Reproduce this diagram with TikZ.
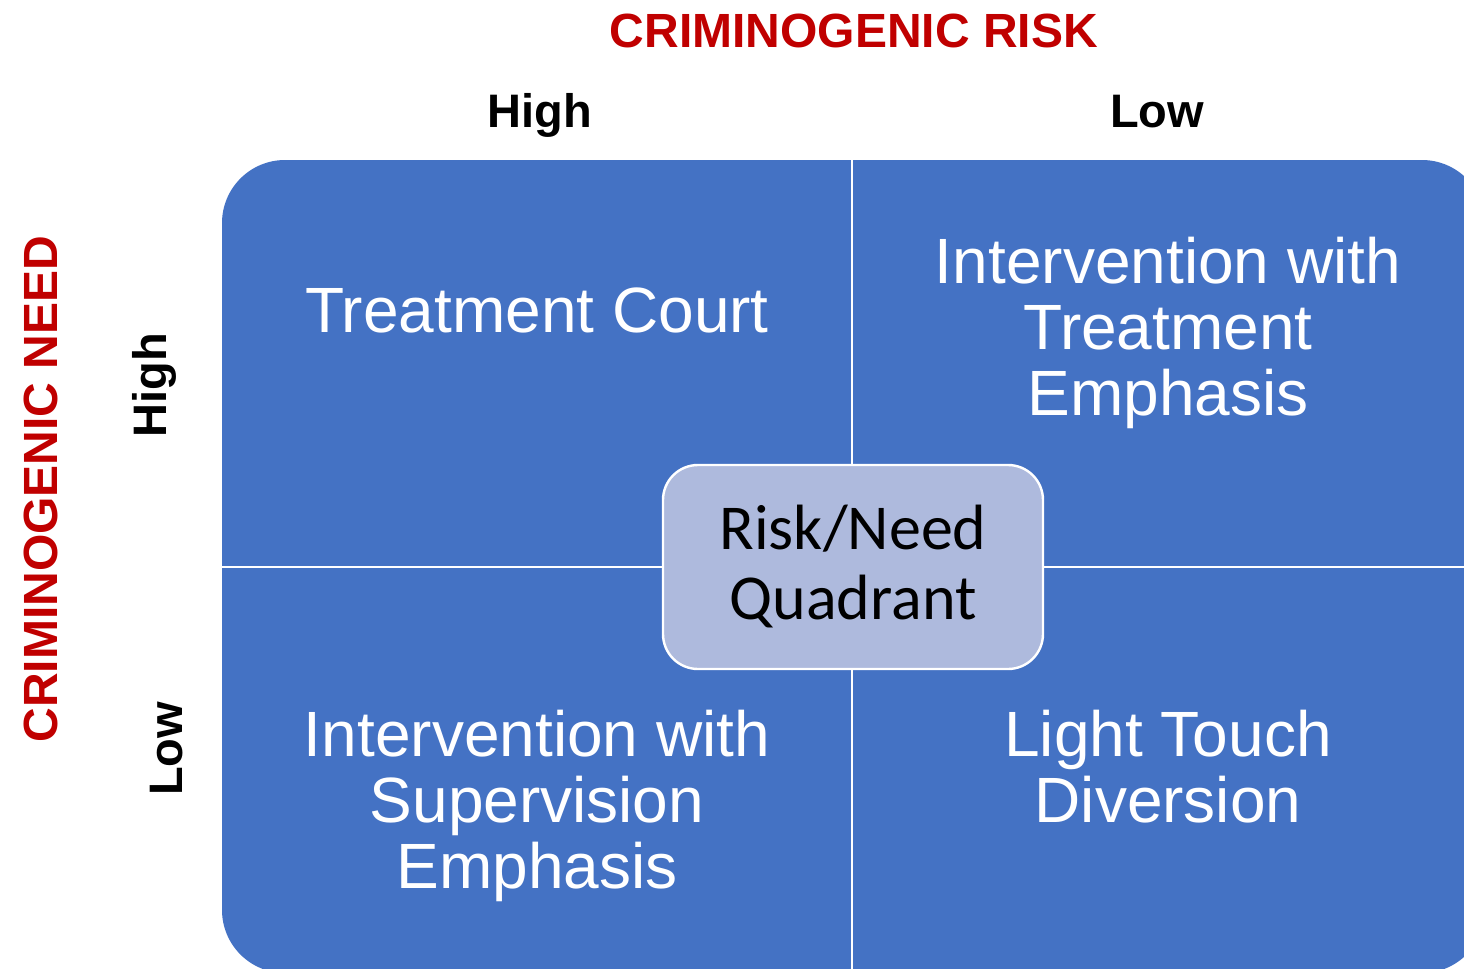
\documentclass[tikz,border=0pt]{standalone}
\usepackage{fontspec}
\setmainfont{Liberation Sans}
\newfontfamily\hubfont{Carlito}
\definecolor{quadblue}{RGB}{68,114,196}
\definecolor{hubfill}{RGB}{174,186,221}
\definecolor{axisred}{RGB}{192,0,0}

\begin{document}
\begin{tikzpicture}[x=0.5pt,y=-0.5pt,
  axistitle/.style={font=\fontsize{24}{28}\selectfont\bfseries, text=axisred, inner sep=0},
  level/.style={font=\fontsize{23.5}{28}\selectfont\bfseries, inner sep=0},
  quadtext/.style={font=\fontsize{32}{33}\selectfont, text=white, align=center, inner sep=0, anchor=north},
  hub/.style={draw=white, line width=1.2pt, fill=hubfill, rounded corners=17.5pt,
    minimum width=190pt, minimum height=102pt, align=center,
    font=\hubfont\fontsize{32}{35}\selectfont},
  divider/.style={white, line width=1pt}]
\useasboundingbox (0,0) rectangle (1464,969);
\clip (0,0) rectangle (1464,969);

% quadrant field with rounded outer corners
\fill[quadblue, rounded corners=31.5pt] (222,160) rectangle (1485,973);
\draw[divider] (852,160) -- (852,973);
\draw[divider] (222,567) -- (1485,567);

% quadrant labels
\node[quadtext] (tl) at (537,287) {Treatment Court};
\node[quadtext] (tr) at (1168,237) {Intervention with\\Treatment\\Emphasis};
\node[quadtext] (bl) at (537,710) {Intervention with\\Supervision\\Emphasis};
\node[quadtext] (br) at (1168,710) {Light Touch\\Diversion};

% central box
\node[hub] (hub) at (853,567) {Risk/Need\\Quadrant};

% axes
\node[axistitle, anchor=base] (risk) at (854,47) {CRIMINOGENIC RISK};
\node[axistitle, anchor=base, rotate=90] (need) at (57,489) {CRIMINOGENIC NEED};
\node[level, anchor=base] (rhigh) at (540,127) {High};
\node[level, anchor=base] (rlow) at (1157,127) {Low};
\node[level, anchor=base, rotate=90] (nhigh) at (166,385) {High};
\node[level, anchor=base, rotate=90] (nlow) at (182,749) {Low};
\end{tikzpicture}
\end{document}
